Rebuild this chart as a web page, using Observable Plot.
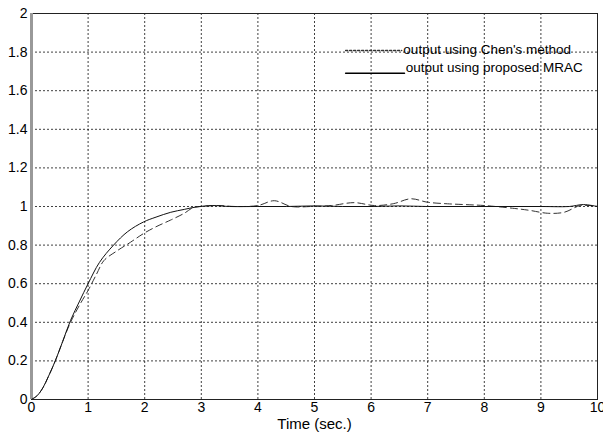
<!DOCTYPE html>
<html><head><meta charset="utf-8">
<script src="https://cdn.jsdelivr.net/npm/d3@7"></script>
<script src="https://cdn.jsdelivr.net/npm/@observablehq/plot@0.6"></script>
<style>body{margin:0;background:#fff;font-family:Arial,"Liberation Sans",sans-serif;overflow:hidden}</style>
</head><body><div id="chart"></div>
<script>
const tMRAC = [0,0.1,0.2,0.3,0.42,0.55,0.69,0.85,1.0,1.2,1.45,1.7,1.98,2.2,2.46,2.7,2.9,3.2,3.5,4,4.5,5,5.5,6,6.5,7,7.5,8,8.5,9,9.5,9.75,10];
const yMRAC = [0,0.02,0.06,0.12,0.2,0.3,0.41,0.51,0.6,0.71,0.8,0.87,0.92,0.945,0.97,0.985,0.997,1.005,1.0,1.0,1.0,1.003,1.0,1.0,1.003,1.0,1.0,1.0,1.0,1.0,1.0,1.01,1.0];
const tChen = [0,0.1,0.2,0.3,0.42,0.55,0.69,0.85,1.0,1.15,1.28,1.51,1.75,1.98,2.2,2.46,2.7,2.86,3.0,3.3,3.6,4.0,4.29,4.59,4.94,5.3,5.7,6.06,6.4,6.7,7.0,7.35,7.65,8.0,8.53,8.8,9.12,9.41,9.7,10];
const yChen = [0,0.02,0.06,0.12,0.2,0.3,0.4,0.49,0.565,0.65,0.72,0.77,0.815,0.86,0.895,0.93,0.965,0.995,1.0,1.005,1.0,1.005,1.03,1.0,1.0,1.005,1.02,1.005,1.015,1.04,1.022,1.014,1.01,1.005,0.99,0.98,0.965,0.97,1.005,1.0];
const xTicks = [0,1,2,3,4,5,6,7,8,9,10];
const yTicks = [0,0.2,0.4,0.6,0.8,1,1.2,1.4,1.6,1.8,2];
const yTickLabels = ["0","0.2","0.4","0.6","0.8","1","1.2","1.4","1.6","1.8","2"];
const legendLabels = ["output using Chen's method","output using proposed MRAC"];
const xLabel = "Time (sec.)";

const mrac = tMRAC.map((t,i)=>({t, y:yMRAC[i]}));
const chen = tChen.map((t,i)=>({t, y:yChen[i]}));

const chart = Plot.plot({
  width: 603, height: 439,
  marginLeft: 31, marginRight: 6, marginTop: 13, marginBottom: 40,
  style: {fontFamily: "Arial, 'Liberation Sans', sans-serif", fontSize: "14px", color: "#000", background: "#fff", overflow: "visible"},
  x: {domain: [0,10], ticks: xTicks},
  y: {domain: [0,2], ticks: yTicks},
  marks: [
    Plot.gridX(xTicks, {stroke: "#000", strokeOpacity: 0.75, strokeDasharray: "2,2"}),
    Plot.gridY(yTicks, {stroke: "#000", strokeOpacity: 0.75, strokeDasharray: "2,2"}),
    Plot.axisX(xTicks, {tickSize: 0, tickPadding: 3, fontSize: 14, label: null}),
    Plot.axisY(yTicks, {tickSize: 0, tickPadding: 4, fontSize: 14, label: null, tickFormat: d=>yTickLabels[yTicks.indexOf(d)]}),
    Plot.frame({stroke: "#222"}),
    Plot.ruleX([0], {stroke: "#999", strokeWidth: 3}),
    Plot.line(chen, {x: "t", y: "y", stroke: "#333", strokeWidth: 1, strokeDasharray: "7,4", curve: "catmull-rom"}),
    Plot.line(mrac, {x: "t", y: "y", stroke: "#111", strokeWidth: 1, curve: "catmull-rom"}),
    Plot.line([{x:5.55,y:1.808},{x:6.54,y:1.808}], {x:"x", y:"y", stroke:"#333", strokeDasharray:"2,2"}),
    Plot.line([{x:5.55,y:1.69},{x:6.59,y:1.69}], {x:"x", y:"y", stroke:"#000"}),
    Plot.text([legendLabels[0]], {x: 6.57, y: 1.815, text: d=>d, textAnchor: "start", lineAnchor: "middle", fontSize: 13.5, fill: "#000"}),
    Plot.text([legendLabels[1]], {x: 6.61, y: 1.72, text: d=>d, textAnchor: "start", lineAnchor: "middle", fontSize: 13.5, fill: "#000"}),
    Plot.text([xLabel], {frameAnchor: "bottom", lineAnchor: "middle", dy: 25, text: d=>d, fontSize: 15, fill: "#000"})
  ]
});
document.getElementById("chart").append(chart);
</script></body></html>
